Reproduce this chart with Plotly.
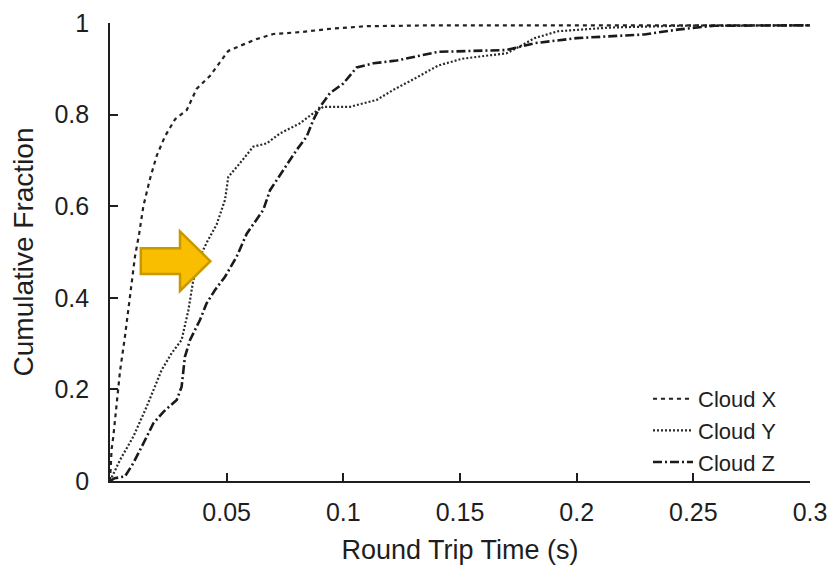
import plotly.graph_objects as go

# ---- data ----
x_cloud_x = [0, 0.0007, 0.0014, 0.0028, 0.0043, 0.0064, 0.0086, 0.0107, 0.0125, 0.0143, 0.0171,
             0.020, 0.0236, 0.0279, 0.0329, 0.0371, 0.0429, 0.0471, 0.0507, 0.0557, 0.0629,
             0.070, 0.0814, 0.0957, 0.110, 0.14, 0.2, 0.25, 0.3]
y_cloud_x = [0, 0.07, 0.096, 0.17, 0.24, 0.315, 0.41, 0.49, 0.54, 0.60, 0.659,
             0.71, 0.753, 0.79, 0.81, 0.856, 0.885, 0.914, 0.939, 0.95, 0.965,
             0.976, 0.98, 0.988, 0.993, 0.995, 0.995, 0.995, 0.995]

x_cloud_y = [0, 0.002, 0.0043, 0.01, 0.0157, 0.0221, 0.0264, 0.0307, 0.0336, 0.0357, 0.0386,
             0.0414, 0.0457, 0.0493, 0.0507, 0.0557, 0.0614, 0.0671, 0.0729, 0.0814, 0.0871,
             0.0914, 0.1029, 0.1143, 0.1214, 0.130, 0.1406, 0.151, 0.170, 0.176, 0.182,
             0.192, 0.214, 0.244, 0.3]
y_cloud_y = [0, 0.02, 0.046, 0.097, 0.162, 0.242, 0.279, 0.308, 0.373, 0.439, 0.49,
             0.52, 0.56, 0.614, 0.664, 0.694, 0.73, 0.737, 0.759, 0.781, 0.803,
             0.817, 0.817, 0.832, 0.854, 0.877, 0.907, 0.922, 0.934, 0.95, 0.967,
             0.982, 0.99, 0.994, 0.995]

x_cloud_z = [0, 0.002, 0.0064, 0.01, 0.0143, 0.0186, 0.0229, 0.0286, 0.0307, 0.0321, 0.0343,
             0.0386, 0.0414, 0.045, 0.0493, 0.0543, 0.0586, 0.0657, 0.0686, 0.0743, 0.080,
             0.0843, 0.0871, 0.090, 0.0943, 0.100, 0.1057, 0.1129, 0.1228, 0.1406, 0.170,
             0.182, 0.200, 0.229, 0.244, 0.259, 0.3]
y_cloud_z = [0, 0.006, 0.01, 0.039, 0.082, 0.126, 0.151, 0.177, 0.206, 0.271, 0.308,
             0.352, 0.388, 0.417, 0.446, 0.49, 0.54, 0.592, 0.635, 0.679, 0.723,
             0.752, 0.788, 0.817, 0.847, 0.868, 0.903, 0.912, 0.918, 0.937, 0.941,
             0.956, 0.967, 0.975, 0.986, 0.994, 0.995]

series_names = ["Cloud X", "Cloud Y", "Cloud Z"]

x_tick_vals = [0.05, 0.1, 0.15, 0.2, 0.25, 0.3]
x_tick_text = ["0.05", "0.1", "0.15", "0.2", "0.25", "0.3"]
y_tick_vals = [0, 0.2, 0.4, 0.6, 0.8, 1]
y_tick_text = ["0", "0.2", "0.4", "0.6", "0.8", "1"]

FONT = "Liberation Sans, Arial, sans-serif"
INK = "#1e1e1e"

fig = go.Figure()
fig.add_trace(go.Scatter(x=x_cloud_x, y=y_cloud_x, mode="lines", name=series_names[0],
                         line=dict(color="#222", width=2.2, dash="4px,4px")))
fig.add_trace(go.Scatter(x=x_cloud_y, y=y_cloud_y, mode="lines", name=series_names[1],
                         line=dict(color="#2a2a2a", width=2.2, dash="2px,2px")))
fig.add_trace(go.Scatter(x=x_cloud_z, y=y_cloud_z, mode="lines", name=series_names[2],
                         line=dict(color="#1a1a1a", width=2.6, dash="9px,3px,2px,3px")))

# highlight arrow (annotation graphic)
fig.add_shape(type="path",
              path="M 0.0132,0.508 L 0.0300,0.508 L 0.0300,0.545 L 0.0430,0.480 "
                   "L 0.0300,0.415 L 0.0300,0.452 L 0.0132,0.452 Z",
              xref="x", yref="y", fillcolor="#F9BE00",
              line=dict(color="#C89800", width=2.5), layer="above")

# the page body has an 8px margin, so the figure is sized to fit the window
fig.update_layout(
    width=831, height=558,
    margin=dict(l=102, r=29, t=15, b=85),
    paper_bgcolor="white", plot_bgcolor="white",
    font=dict(family=FONT, size=25, color=INK),
    showlegend=True,
    legend=dict(x=0.96, y=0.225, xanchor="right", yanchor="top",
                bgcolor="rgba(0,0,0,0)", font=dict(size=22, color=INK),
                itemwidth=40, tracegroupgap=0),
)
fig.update_xaxes(range=[0, 0.3], tickvals=x_tick_vals, ticktext=x_tick_text,
                 ticks="inside", ticklen=8, tickwidth=1.5, tickcolor=INK,
                 showline=True, linecolor=INK, linewidth=1.6, mirror=False,
                 showgrid=False, zeroline=False, ticklabelstandoff=8, automargin=False,
                 tickfont=dict(size=25, color=INK),
                 title=dict(text="Round Trip Time (s)", font=dict(size=27, color=INK)))
fig.update_yaxes(range=[0, 1], tickvals=y_tick_vals, ticktext=y_tick_text,
                 ticks="inside", ticklen=8, tickwidth=1.5, tickcolor=INK,
                 showline=True, linecolor=INK, linewidth=1.6, mirror=False,
                 showgrid=False, zeroline=False, ticklabelstandoff=14, automargin=False,
                 tickfont=dict(size=25, color=INK),
                 title=dict(text="Cumulative Fraction", font=dict(size=28, color=INK)))

fig.write_html("out.html")
